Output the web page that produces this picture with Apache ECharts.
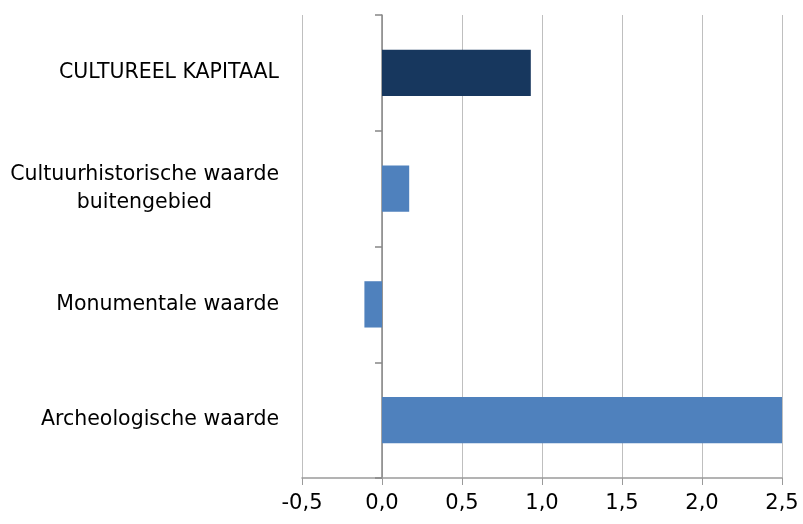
<!DOCTYPE html>
<html>
<head>
<meta charset="utf-8">
<script src="https://cdn.jsdelivr.net/npm/echarts@6/dist/echarts.min.js"></script>
<style>
    html, body { margin: 0; padding: 0; background: #fff; }
    #chart { width: 803px; height: 524px; }
</style>
</head>
<body>
<div id="chart"></div>
<script>
// categories, bottom to top
var categories = ['Archeologische waarde', 'Monumentale waarde', 'Cultuurhistorische waarde\nbuitengebied', 'CULTUREEL KAPITAAL'];
var values = [2.5, -0.11, 0.17, 0.93];
var barColors = ['#4F81BD', '#4F81BD', '#4F81BD', '#17375E'];

var myChart = echarts.init(document.getElementById('chart'));

var fontName = '"DejaVu Sans", sans-serif';

var option = {
    animation: false,
    grid: {
        left: 302,
        right: 21,
        top: 15,
        bottom: 46
    },
    xAxis: {
        type: 'value',
        min: -0.5,
        max: 2.5,
        interval: 0.5,
        position: 'bottom',
        axisLine: { show: true, onZero: false, lineStyle: { color: '#9a9a9a', width: 1.5 } },
        axisTick: { show: true, length: 7, lineStyle: { color: '#9a9a9a', width: 1 } },
        splitLine: { show: true, lineStyle: { color: '#bfbfbf', width: 1 } },
        axisLabel: {
            color: '#000',
            fontSize: 21,
            fontFamily: fontName,
            margin: 15,
            formatter: function (v) {
                return v.toFixed(1).replace('.', ',');
            }
        }
    },
    yAxis: [
        {
            // labels at left of plot
            type: 'category',
            data: categories,
            position: 'left',
            axisLine: { show: false, onZero: false },
            axisTick: { show: false },
            axisLabel: {
                color: '#000',
                fontSize: 20.5,
                fontFamily: fontName,
                margin: 23,
                lineHeight: 28,
                align: 'right',
                // tweede regel gecentreerd onder de eerste
                formatter: function (v) {
                    var p = v.split('\n');
                    if (p.length > 1) {
                        return p[0] + '\n{b|' + p[1] + '}';
                    }
                    return v;
                },
                rich: {
                    b: {
                        color: '#000',
                        fontSize: 20.5,
                        fontFamily: fontName,
                        lineHeight: 28,
                        padding: [0, 67, 0, 0]
                    }
                }
            }
        },
        {
            // axis line at zero with ticks
            type: 'category',
            data: categories,
            position: 'left',
            axisLine: { show: true, onZero: true, lineStyle: { color: '#868686', width: 1.5 } },
            axisTick: { show: true, length: 7, lineStyle: { color: '#868686', width: 1.5 } },
            axisLabel: { show: false }
        }
    ],
    series: [
        {
            type: 'bar',
            yAxisIndex: 0,
            barWidth: '40%',
            data: values.map(function (v, i) {
                return { value: v, itemStyle: { color: barColors[i] } };
            })
        }
    ]
};

myChart.setOption(option);
</script>
</body>
</html>
